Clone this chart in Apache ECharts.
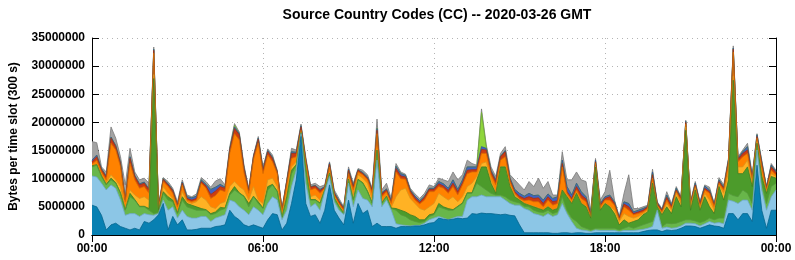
<!DOCTYPE html>
<html>
<head>
<meta charset="utf-8">
<script src="https://cdn.jsdelivr.net/npm/echarts@6/dist/echarts.min.js"></script>
<style>
  html, body { margin: 0; padding: 0; background: #fff; }
  #chart { width: 795px; height: 260px; }
</style>
</head>
<body>
<div id="chart"></div>
<script>
// 145 slots, one every 10 minutes, 00:00 .. 24:00
const slotLabels = []
for (let m = 0; m <= 1440; m += 10) {
  const h = Math.floor(m / 60) % 24
  slotLabels.push(String(h).padStart(2, '0') + ':' + String(m % 60).padStart(2, '0'))
}

// values in millions of bytes, each array is the top edge of a band (bands are stacked bottom -> top)
const topDkBlue = [5.3,5.0,3.5,0.9,1.8,2.1,1.5,1.2,0.9,1.2,0.9,2.4,2.1,2.7,3.6,5.6,0.9,3.3,1.8,2.7,0.9,0.9,1.0,1.2,1.2,1.2,1.5,1.6,1.8,4.4,3.3,2.7,1.8,1.5,1.8,1.5,1.2,2.7,3.8,3.6,0.9,2.1,5.6,9.8,17.5,5.6,3.3,3.6,2.1,4.4,8.9,4.4,3.0,1.8,6.2,2.1,5.6,3.8,4.4,1.5,2.1,1.5,1.5,1.5,1.2,1.5,1.5,1.5,1.6,1.6,1.8,2.1,2.2,3.0,2.8,2.7,2.8,3.0,2.9,3.0,3.8,3.7,3.9,3.8,3.8,3.7,3.6,3.7,3.5,3.4,1.8,0.4,0.4,0.4,0.4,0.4,0.4,0.3,0.3,0.4,0.4,0.3,0.4,0.4,0.3,0.3,0.4,0.4,0.4,0.4,0.4,0.4,0.4,0.4,0.4,0.4,0.6,0.8,0.9,0.9,0.6,0.9,0.8,0.9,1.2,1.6,1.6,1.5,1.2,1.5,1.8,1.6,1.5,1.2,3.8,3.8,2.7,3.8,3.8,2.4,12.4,4.4,1.2,4.4,4.4]
const topLtBlue = [10.5,10.3,9.2,8.0,8.9,8.3,6.2,3.5,3.8,3.8,3.3,3.8,3.6,3.5,3.8,6.2,4.4,5.0,3.0,4.4,3.3,3.0,3.0,3.3,3.3,2.4,3.0,3.3,3.6,6.2,5.9,5.0,4.4,3.6,5.0,4.4,3.6,5.6,6.8,6.2,2.7,4.4,8.6,11.5,18.0,9.2,5.0,5.6,4.4,7.7,10.4,5.9,4.4,3.6,9.2,5.0,8.0,6.5,6.2,5.0,13.3,5.0,6.2,4.4,2.0,1.8,1.7,1.6,1.7,1.7,2.1,2.7,3.0,3.3,3.0,2.7,3.0,3.3,3.3,6.2,6.8,6.8,7.1,6.8,6.8,6.8,6.8,6.2,5.6,5.3,5.3,4.7,4.4,3.8,3.6,3.3,3.8,3.3,3.6,5.6,3.8,2.4,1.2,0.9,0.8,0.6,0.9,0.8,0.8,0.8,0.8,0.6,0.8,0.8,0.8,0.9,1.0,1.2,1.5,4.4,1.2,1.4,1.2,1.3,1.6,2.1,2.1,2.0,1.6,2.0,2.4,2.1,2.2,2.0,6.2,6.0,5.6,6.2,6.2,4.4,15.1,8.0,4.4,6.8,8.0]
const topLtGreen = [12.1,12.4,10.4,8.9,9.8,9.2,7.4,4.4,6.8,6.2,5.0,5.0,4.4,3.8,4.0,7.4,6.2,5.9,3.8,6.2,5.0,4.7,4.4,4.4,4.4,3.6,3.8,4.4,4.7,7.1,8.0,7.4,6.8,5.0,6.8,5.6,4.7,8.0,8.9,7.7,3.1,6.2,10.9,12.4,18.1,11.5,6.2,6.2,5.6,8.0,10.9,6.5,5.0,3.8,9.8,6.2,9.8,9.2,7.7,5.6,14.5,5.6,6.8,4.7,4.4,3.6,3.3,2.7,2.4,2.2,2.4,3.3,3.6,5.0,4.7,4.4,4.4,5.0,5.6,7.4,7.4,9.2,8.6,8.0,7.4,7.1,7.1,6.8,6.2,5.9,5.7,5.1,5.0,4.4,4.1,4.0,4.4,3.8,4.1,6.8,4.4,3.0,2.4,1.5,1.2,0.9,1.2,1.2,1.2,1.2,1.2,0.9,1.2,1.5,1.2,1.5,1.8,2.1,2.4,4.7,1.5,2.1,2.0,2.1,2.4,2.7,2.7,2.5,2.2,2.5,3.0,2.7,3.0,3.0,7.4,7.0,6.8,8.0,7.4,5.6,15.7,9.2,5.6,8.6,9.2]
const topDkGreen = [12.3,12.5,10.5,9.0,10.1,9.3,7.5,4.5,7.4,6.3,5.1,5.1,4.7,27.8,4.4,7.7,6.8,6.2,3.9,6.8,5.6,5.3,5.0,4.7,4.5,3.8,4.1,4.9,4.8,7.4,8.6,7.5,6.9,5.6,6.9,5.9,4.8,8.6,9.0,7.8,3.2,6.8,11.5,12.5,18.2,11.8,6.3,6.3,5.7,8.0,11.0,6.6,5.1,3.9,9.9,6.3,9.9,9.3,7.8,5.7,15.1,5.7,6.9,4.8,4.7,4.4,4.1,3.6,3.3,2.7,2.7,3.6,3.8,5.6,5.0,4.7,4.5,5.1,5.7,7.5,7.5,9.8,12.1,12.1,9.2,7.4,12.1,12.1,8.6,6.8,6.2,5.6,5.3,5.0,4.7,4.4,5.0,4.4,4.7,8.0,6.8,5.6,7.4,5.6,5.0,3.0,12.1,4.4,5.6,5.0,3.8,1.8,2.7,2.1,2.4,2.7,3.6,4.1,9.2,5.0,3.6,5.0,3.8,6.8,5.0,18.6,4.4,8.0,4.4,6.8,5.0,3.8,8.6,6.2,9.8,27.5,10.9,10.9,12.1,8.6,16.3,10.4,7.4,10.4,10.1]
const topYellow = [12.3,12.5,10.5,9.3,10.7,9.8,8.6,4.7,8.0,7.1,6.5,6.8,6.2,28.5,4.4,8.6,7.4,6.5,4.1,7.7,5.9,5.6,5.9,6.8,6.2,5.0,4.7,5.6,5.9,8.6,9.5,8.6,8.0,6.2,8.6,6.2,5.6,9.8,10.1,8.6,3.6,7.4,12.1,13.0,18.3,12.1,6.8,7.1,6.2,8.1,11.2,6.8,5.3,4.0,10.1,7.1,10.7,10.1,9.2,6.2,15.2,5.8,7.1,4.9,6.8,8.0,8.3,6.5,5.6,4.7,4.4,5.0,5.6,7.4,6.8,6.2,6.8,5.9,6.8,8.6,9.2,10.4,12.7,13.0,9.8,7.7,12.2,12.2,8.7,7.1,6.3,5.7,5.4,5.1,4.8,4.5,5.1,4.5,4.8,8.1,6.9,5.7,7.5,5.7,5.1,3.1,12.2,4.5,5.7,5.1,4.4,2.4,3.8,3.3,3.0,3.3,3.8,4.4,9.3,5.1,3.8,5.6,4.4,7.4,5.6,19.2,5.0,8.3,4.7,7.4,6.2,4.4,8.9,7.4,11.2,28.2,12.1,12.1,13.3,9.2,16.6,10.7,7.7,10.9,10.4]
const topOrange = [12.6,13.3,11.2,9.8,16.3,15.1,12.1,5.9,12.7,9.8,8.3,8.6,7.4,32.3,4.7,9.5,8.6,7.4,5.0,8.9,6.2,5.9,6.2,9.2,8.3,6.5,7.0,8.0,7.7,14.5,18.0,16.9,11.0,7.4,13.4,16.3,10.9,14.2,13.0,10.9,4.1,8.9,13.6,13.9,18.6,13.0,8.0,8.3,7.4,8.3,12.1,7.1,5.6,4.4,10.9,8.0,11.2,10.7,9.8,7.4,18.0,6.8,7.7,5.6,11.2,10.0,9.9,7.4,6.2,5.5,6.2,7.7,7.7,8.6,8.3,7.4,8.6,7.1,8.9,10.9,11.2,11.2,14.5,14.5,10.7,8.9,13.3,13.9,9.5,7.4,6.5,6.1,6.2,5.9,5.9,5.0,6.2,5.3,5.6,12.1,7.4,6.2,8.0,6.5,5.9,3.3,12.7,5.0,6.2,6.2,5.3,2.7,5.0,4.4,3.6,3.8,4.1,4.7,10.1,5.3,4.1,6.2,4.7,7.7,6.2,19.7,5.3,8.6,5.1,8.0,7.4,5.0,9.2,8.0,12.7,32.5,13.0,13.9,14.5,9.8,17.2,12.1,8.0,11.5,10.7]
const topRed = [13.0,13.9,11.6,10.3,17.2,15.7,12.7,6.2,13.6,10.4,8.9,9.2,8.0,32.8,5.0,9.9,8.9,7.9,5.3,9.2,6.5,6.2,6.5,9.5,8.7,7.2,7.8,8.6,8.3,15.1,18.9,17.8,11.8,7.9,13.9,17.0,11.5,14.8,13.6,11.2,4.4,9.5,14.5,14.5,19.2,13.3,8.5,8.7,7.9,8.5,12.6,7.4,5.9,4.7,11.5,8.6,11.5,10.9,10.1,7.9,18.6,7.3,8.0,5.9,11.8,10.5,10.3,7.8,6.6,5.8,6.7,8.1,8.1,9.1,8.7,7.9,9.2,7.7,9.3,11.5,11.6,11.6,15.2,15.1,11.2,9.5,13.9,14.8,9.8,7.7,6.9,6.5,6.8,6.5,6.6,5.6,6.8,5.9,6.1,12.7,7.7,6.5,8.6,7.1,6.4,3.6,13.0,5.3,6.5,6.8,5.6,3.0,5.5,5.0,3.8,4.1,4.4,5.0,10.7,5.6,4.4,6.7,5.1,8.0,6.5,20.0,5.6,8.9,5.5,8.3,7.7,5.3,9.5,8.3,13.2,33.0,13.4,14.5,15.1,10.1,17.5,12.7,8.3,12.1,11.1]
const topBlue = [13.3,14.2,11.8,10.5,17.4,15.9,12.9,6.3,13.9,10.6,9.1,9.4,8.2,33.0,5.1,10.0,9.1,8.0,5.4,9.4,6.8,6.6,6.9,9.8,9.0,8.1,8.5,9.0,8.5,15.3,19.2,18.0,12.0,8.0,14.0,17.2,11.7,15.0,13.8,11.3,4.5,9.6,14.8,14.7,19.4,13.5,8.6,8.8,8.1,8.6,12.8,7.6,6.1,4.8,11.7,8.8,11.6,11.1,10.3,8.0,18.9,7.5,8.2,6.1,12.2,10.9,10.6,8.0,6.9,6.1,6.9,8.3,8.3,9.5,9.1,8.3,9.8,8.1,9.8,12.1,12.1,12.1,15.7,15.4,11.5,9.8,14.0,15.0,10.1,8.1,7.4,6.9,7.4,7.0,7.1,6.2,7.3,6.5,6.8,13.3,8.6,7.1,9.2,7.7,6.8,3.8,13.3,5.6,6.8,7.1,5.9,3.1,5.9,5.6,4.1,4.4,4.7,5.1,11.2,5.7,4.5,7.1,5.3,8.3,6.6,20.2,5.7,9.2,5.7,8.7,8.0,5.5,9.8,8.5,13.4,33.2,13.6,14.8,15.7,10.4,17.8,13.0,8.5,12.4,11.3]
const topLime = [13.3,14.2,11.8,10.5,17.4,15.9,12.9,6.3,13.9,10.6,9.1,9.4,8.2,33.0,5.1,10.0,9.1,8.0,5.4,9.4,6.8,6.6,6.9,9.8,9.0,8.1,8.5,9.0,8.5,15.3,19.5,18.0,12.0,8.0,14.0,17.2,11.7,15.0,13.8,11.3,4.5,9.6,14.8,14.7,19.4,13.5,8.6,8.8,8.1,8.6,12.8,7.6,6.1,4.8,11.7,8.8,11.6,11.1,10.3,8.0,19.0,7.5,8.2,6.1,12.2,10.9,10.6,8.0,6.9,6.1,6.9,8.3,8.3,9.5,9.1,8.3,9.8,8.1,9.8,12.1,12.1,12.1,21.8,15.7,11.5,9.8,14.0,15.0,10.1,8.1,7.4,6.9,7.4,7.0,7.1,6.2,7.3,6.5,6.8,13.3,8.6,7.1,9.2,7.7,6.8,3.8,13.3,5.6,6.8,7.1,5.9,3.1,5.9,5.6,4.1,4.4,4.7,5.1,11.2,5.7,4.5,7.1,5.3,8.3,6.6,20.2,5.7,9.2,5.7,8.7,8.0,5.5,9.8,8.5,13.4,33.2,13.6,14.8,15.7,10.4,17.8,13.0,8.5,12.4,11.3]
const topGray = [16.6,16.4,12.1,11.2,19.2,17.2,13.9,8.9,15.4,11.2,9.8,10.1,9.2,33.4,5.3,10.2,9.5,8.3,5.9,9.8,7.1,6.8,7.3,10.2,9.5,8.5,9.6,10.0,8.9,15.7,19.8,18.3,12.4,8.3,14.2,17.5,12.1,15.3,14.2,11.5,4.7,9.8,15.4,15.1,19.7,13.9,8.9,9.2,8.6,8.9,13.0,8.0,6.5,5.0,12.1,9.2,11.8,11.5,10.7,8.3,20.6,8.0,9.2,6.5,12.7,11.2,10.8,8.3,7.3,6.5,7.4,8.9,8.6,10.1,9.8,9.5,11.2,9.8,10.7,13.3,12.7,12.4,22.4,16.0,12.1,10.4,14.5,15.7,10.7,9.8,8.9,8.0,9.5,8.6,10.1,8.3,9.5,7.1,7.1,14.8,9.8,9.8,11.2,9.8,9.5,4.4,13.6,6.2,7.7,11.5,6.2,3.3,7.4,10.7,4.7,4.7,5.0,5.3,11.7,5.9,4.7,7.7,5.6,8.6,6.8,20.4,5.9,9.5,5.9,8.9,8.5,5.6,10.2,8.9,13.7,33.6,13.9,15.1,16.3,10.7,18.0,13.3,8.6,12.7,11.5]

// drawn back to front: the highest edge first, each lower band painted over it
const bands = [
  { name: 'other', data: topGray, fill: '#a3a3a3', edge: '#7a7a7a' },
  { name: 'lime', data: topLime, fill: '#8fd63c', edge: '#70b030' },
  { name: 'blue', data: topBlue, fill: '#3f62c4', edge: '#30509e' },
  { name: 'red', data: topRed, fill: '#cc3c12', edge: '#a8300e' },
  { name: 'orange', data: topOrange, fill: '#ff8200', edge: '#d86e00' },
  { name: 'yellow', data: topYellow, fill: '#ffb224', edge: '#d8961e' },
  { name: 'dkgreen', data: topDkGreen, fill: '#4c9b2b', edge: '#3c7d22' },
  { name: 'ltgreen', data: topLtGreen, fill: '#68b64a', edge: '#55983c' },
  { name: 'ltblue', data: topLtBlue, fill: '#8cc6e6', edge: '#6ea8c8' },
  { name: 'dkblue', data: topDkBlue, fill: '#0880b2', edge: '#06668e' }
]

const every6h = (i) => i % 36 === 0
const boldText = { fontFamily: 'Liberation Sans', fontWeight: 'bold', fontSize: 12, color: '#000' }

const chart = echarts.init(document.getElementById('chart'))
chart.setOption({
  animation: false,
  title: {
    text: 'Source Country Codes (CC) -- 2020-03-26 GMT',
    left: 432,
    top: 3,
    textAlign: 'center',
    textStyle: { fontFamily: 'Liberation Sans', fontWeight: 'bold', fontSize: 14, color: '#000' }
  },
  grid: { left: 88, right: 19, top: 38, bottom: 25 },
  xAxis: [
    {
      type: 'category',
      data: slotLabels,
      boundaryGap: false,
      axisLine: { lineStyle: { color: '#000', width: 1 } },
      axisTick: { inside: true, length: 7, interval: every6h, lineStyle: { color: '#000' } },
      axisLabel: { interval: every6h, margin: 8, ...boldText },
      splitLine: { show: true, interval: every6h, lineStyle: { color: '#b4b4b4', type: [1, 4] } }
    },
    {
      type: 'category',
      position: 'top',
      data: slotLabels,
      boundaryGap: false,
      axisLine: { lineStyle: { color: '#000', width: 1 } },
      axisTick: { inside: true, length: 7, interval: every6h, lineStyle: { color: '#000' } },
      axisLabel: { show: false },
      splitLine: { show: false }
    }
  ],
  yAxis: [
    {
      type: 'value',
      min: 0,
      max: 35000000,
      interval: 5000000,
      name: 'Bytes per time slot (300 s)',
      nameLocation: 'middle',
      nameGap: 72,
      nameTextStyle: { ...boldText },
      axisLine: { show: true, lineStyle: { color: '#000', width: 1 } },
      axisTick: { show: true, inside: true, length: 7, lineStyle: { color: '#000' } },
      axisLabel: { margin: 7, ...boldText, formatter: (v) => String(v) },
      splitLine: { show: true, lineStyle: { color: '#b4b4b4', type: [1, 4] } }
    },
    {
      type: 'value',
      position: 'right',
      min: 0,
      max: 35000000,
      interval: 5000000,
      axisLine: { show: true, lineStyle: { color: '#000', width: 1 } },
      axisTick: { show: true, inside: true, length: 7, lineStyle: { color: '#000' } },
      axisLabel: { show: false },
      splitLine: { show: false }
    }
  ],
  series: bands.map((b) => ({
    name: b.name,
    type: 'line',
    data: b.data.map((v) => v * 1e6),
    symbol: 'none',
    smooth: false,
    lineStyle: { color: b.edge, width: 0.8 },
    areaStyle: { color: b.fill, opacity: 1 },
    emphasis: { disabled: true }
  }))
})
</script>
</body>
</html>
